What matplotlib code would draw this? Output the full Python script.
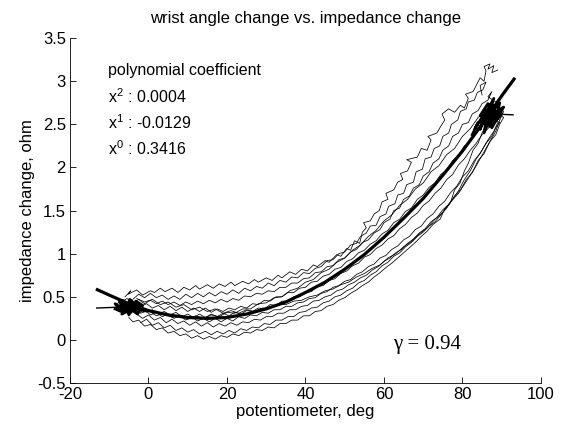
import matplotlib
matplotlib.use("Agg")
import matplotlib.pyplot as plt

plt.rcParams['font.family'] = ['Liberation Sans', 'DejaVu Sans']
plt.rcParams['mathtext.fontset'] = 'custom'
plt.rcParams['mathtext.rm'] = 'Liberation Sans'
plt.rcParams['mathtext.it'] = 'Liberation Sans:italic'

# ---- data ----
x_ticks = [-20, 0, 20, 40, 60, 80, 100]
x_tick_labels = ["-20", "0", "20", "40", "60", "80", "100"]
y_ticks = [-0.5, 0, 0.5, 1, 1.5, 2, 2.5, 3, 3.5]
y_tick_labels = ["-0.5", "0", "0.5", "1", "1.5", "2", "2.5", "3", "3.5"]

coef_labels = ["x$^2$ : 0.0004", "x$^1$ : -0.0129", "x$^0$ : 0.3416"]
gamma_text = "γ = 0.94"

fit_x = [-13.4, -10, -5, 0, 5, 10, 15, 20, 25, 30, 35, 40, 45, 50, 55, 60, 65, 70, 75, 80, 85, 90, 93.4]
fit_y = [0.59, 0.52, 0.42, 0.34, 0.29, 0.26, 0.25, 0.26, 0.30, 0.36, 0.44, 0.55, 0.67, 0.82, 0.99, 1.19,
         1.41, 1.64, 1.91, 2.19, 2.50, 2.83, 3.04]

trace_1 = [(-6, 0.50), (-4.5, 0.57), (-5.2, 0.53), (-3, 0.58), (-1.5, 0.52), (0.5, 0.57), (1.5, 0.55), (3, 0.60),
           (4.2, 0.56), (6, 0.60), (7.5, 0.55), (9, 0.61), (10.5, 0.58), (12, 0.63), (13, 0.59), (15, 0.64),
           (16.5, 0.60), (18, 0.65), (19.5, 0.62), (21, 0.67), (22, 0.63), (24, 0.68), (25.5, 0.65), (27, 0.70),
           (28, 0.67), (30, 0.72), (31.5, 0.69), (33, 0.75), (34, 0.72), (36, 0.79), (37.5, 0.76), (39, 0.82),
           (40.5, 0.80), (42, 0.87), (43, 0.85), (45, 0.92), (46, 0.90), (48, 0.99), (49, 0.97), (50.5, 1.06),
           (51.5, 1.04), (52.5, 1.15), (53.8, 1.12), (54.5, 1.25), (55.5, 1.30), (54.8, 1.36), (56.5, 1.38),
           (57.5, 1.46), (58.8, 1.50), (59.5, 1.60), (61, 1.63), (60.5, 1.70), (62.5, 1.74), (63.5, 1.83),
           (64.8, 1.86), (64.2, 1.93), (66, 1.96), (67, 2.06), (65.8, 2.09), (68.5, 2.12), (69.5, 2.22),
           (71, 2.20), (72, 2.32), (71.2, 2.36), (73.5, 2.40), (74.5, 2.48), (75.5, 2.55), (74.8, 2.62),
           (76.5, 2.68), (78, 2.64), (79.5, 2.72), (80.5, 2.69), (81.5, 2.80), (80.8, 2.85), (82.7, 2.88),
           (83.5, 2.95), (84.5, 3.04), (85.5, 3.00), (86, 3.12), (85.5, 3.17), (87, 3.20), (86.5, 3.14),
           (88, 3.18), (87.5, 3.10), (89, 3.13)]
trace_2 = [(-4, 0.47), (-2.5, 0.53), (-1, 0.49), (0.5, 0.54), (2, 0.49), (3.5, 0.52), (5, 0.47), (6.5, 0.51),
           (8, 0.47), (9.5, 0.53), (11, 0.49), (12.5, 0.54), (14, 0.50), (15.5, 0.55), (17, 0.51), (18.5, 0.56),
           (20, 0.53), (21.5, 0.58), (23, 0.54), (24.5, 0.60), (26, 0.57), (27.5, 0.62), (29, 0.60), (30.5, 0.66),
           (32, 0.63), (33.5, 0.69), (35, 0.67), (36.5, 0.73), (38, 0.72), (39.5, 0.78), (41, 0.77), (42.5, 0.83),
           (44, 0.85), (45.5, 0.92), (47, 0.93), (48.5, 1.00), (50, 1.02), (51.5, 1.10), (53, 1.12), (54, 1.20),
           (55.5, 1.24), (56.5, 1.32), (58, 1.33), (59, 1.43), (60.5, 1.46), (61.2, 1.55), (62.8, 1.58),
           (63.5, 1.68), (65, 1.70), (65.8, 1.80), (67.5, 1.83), (68.2, 1.95), (69.8, 1.98), (70.5, 2.10),
           (72, 2.12), (72.8, 2.22), (74.2, 2.25), (75, 2.36), (76.5, 2.40), (77.2, 2.50), (78.8, 2.55),
           (79.5, 2.65), (81, 2.68), (81.5, 2.76), (83, 2.78), (83.8, 2.87), (85.2, 2.90), (86, 2.99),
           (84.5, 2.95), (85, 2.84)]
trace_3 = [(-7, 0.44), (-5.5, 0.48), (-4, 0.43), (-2.5, 0.47), (-1, 0.42), (0.5, 0.46), (2, 0.42), (3.5, 0.45),
           (5, 0.41), (6.5, 0.44), (8, 0.40), (9.5, 0.44), (11, 0.41), (12.5, 0.45), (14, 0.42), (15.5, 0.46),
           (17, 0.43), (18.5, 0.47), (20, 0.44), (21.5, 0.48), (23, 0.46), (24.5, 0.51), (26, 0.50), (27.5, 0.54),
           (29, 0.53), (30.5, 0.57), (32, 0.56), (33.5, 0.61), (35, 0.61), (36.5, 0.66), (38, 0.66), (39.5, 0.71),
           (41, 0.72), (42.5, 0.78), (44, 0.79), (45.5, 0.85), (47, 0.86), (48.5, 0.93), (50, 0.95), (51.5, 1.02),
           (53, 1.05), (54.5, 1.13), (56, 1.16), (57.5, 1.24), (59, 1.28), (60, 1.36), (61.5, 1.40), (62.5, 1.50),
           (64, 1.53), (65, 1.63), (66.5, 1.67), (67.5, 1.76), (69, 1.80), (70, 1.90), (71.5, 1.95), (72.5, 2.05),
           (74, 2.10), (75, 2.20), (76.5, 2.25), (77.5, 2.36), (79, 2.40), (80, 2.50), (81.5, 2.52), (82.5, 2.62),
           (84, 2.66), (85, 2.74), (86.5, 2.78), (87.5, 2.88), (86.5, 2.82), (88.5, 2.76)]
trace_4 = [(-8, 0.42), (-6.5, 0.47), (-5, 0.41), (-3.5, 0.45), (-2, 0.39), (-0.5, 0.42), (1, 0.37), (2.5, 0.40),
           (4, 0.35), (5.5, 0.39), (7, 0.34), (8.5, 0.38), (10, 0.33), (11.5, 0.37), (13, 0.33), (14.5, 0.37),
           (16, 0.32), (17.5, 0.36), (19, 0.33), (20.5, 0.37), (22, 0.35), (23.5, 0.39), (25, 0.37), (26.5, 0.42),
           (28, 0.41), (29.5, 0.46), (31, 0.45), (32.5, 0.50), (34, 0.50), (35.5, 0.55), (37, 0.55), (38.5, 0.60),
           (40, 0.61), (41.5, 0.67), (43, 0.68), (44.5, 0.74), (46, 0.76), (47.5, 0.82), (49, 0.84), (50.5, 0.91),
           (52, 0.94), (53.5, 1.01), (55, 1.04), (56.5, 1.11), (58, 1.15), (59.5, 1.23), (61, 1.27), (62.5, 1.36),
           (64, 1.40), (65.5, 1.49), (67, 1.53), (68.5, 1.63), (70, 1.68), (71.5, 1.77), (73, 1.82), (74.5, 1.92),
           (76, 1.97), (77.5, 2.08), (79, 2.14), (80.5, 2.25), (82, 2.30), (83.5, 2.42), (85, 2.48), (86.5, 2.58),
           (88, 2.63), (87, 2.56), (89, 2.60)]
trace_5 = [(-5, 0.38), (-3.5, 0.34), (-2, 0.38), (-0.5, 0.32), (1, 0.35), (2.5, 0.30), (4, 0.33), (5.5, 0.29),
           (7, 0.32), (8.5, 0.27), (10, 0.30), (11.5, 0.26), (13, 0.30), (14.5, 0.26), (16, 0.30), (17.5, 0.27),
           (19, 0.31), (20.5, 0.28), (22, 0.32), (23.5, 0.30), (25, 0.34), (26.5, 0.33), (28, 0.37), (29.5, 0.36),
           (31, 0.41), (32.5, 0.40), (34, 0.45), (35.5, 0.45), (37, 0.50), (38.5, 0.50), (40, 0.55), (41.5, 0.56),
           (43, 0.62), (44.5, 0.63), (46, 0.69), (47.5, 0.71), (49, 0.77), (50.5, 0.80), (52, 0.86), (53.5, 0.89),
           (55, 0.96), (56.5, 0.99), (58, 1.06), (59.5, 1.10), (61, 1.17), (62.5, 1.21), (64, 1.29), (65.5, 1.34),
           (67, 1.42), (68.5, 1.47), (70, 1.56), (71.5, 1.61), (73, 1.70), (74.5, 1.76), (76, 1.86), (77.5, 1.92),
           (79, 2.03), (80.5, 2.10), (82, 2.20), (83.5, 2.28), (85, 2.38), (86.5, 2.45), (88, 2.54), (89.5, 2.58),
           (90.5, 2.65), (89.5, 2.55)]
trace_6 = [(-4, 0.36), (-2.5, 0.31), (-1, 0.35), (0.5, 0.29), (2, 0.32), (3.5, 0.27), (5, 0.30), (6.5, 0.25),
           (8, 0.28), (9.5, 0.23), (11, 0.27), (12.5, 0.22), (14, 0.25), (15.5, 0.21), (17, 0.25), (18.5, 0.21),
           (20, 0.25), (21.5, 0.22), (23, 0.27), (24.5, 0.25), (26, 0.29), (27.5, 0.28), (29, 0.32), (30.5, 0.31),
           (32, 0.35), (33.5, 0.35), (35, 0.39), (36.5, 0.39), (38, 0.43), (39.5, 0.44), (41, 0.48), (42.5, 0.49),
           (44, 0.54), (45.5, 0.56), (47, 0.61), (48.5, 0.63), (50, 0.68), (51.5, 0.70), (53, 0.76), (54.5, 0.79),
           (56, 0.85), (57.5, 0.88), (59, 0.95), (60.5, 0.98), (62, 1.05), (63.5, 1.09), (65, 1.16), (66.5, 1.20),
           (68, 1.28), (69.5, 1.32), (71, 1.41), (72.5, 1.46), (74, 1.55), (75.5, 1.61), (77, 1.71), (78.5, 1.78),
           (80, 1.89), (81.5, 1.96), (83, 2.08), (84.5, 2.16), (86, 2.28), (87.5, 2.36), (88.5, 2.46),
           (89.5, 2.52), (88.5, 2.55)]
trace_7 = [(-3, 0.30), (-1.5, 0.25), (0, 0.29), (1.5, 0.23), (3, 0.26), (4.5, 0.20), (6, 0.24), (7.5, 0.19),
           (9, 0.22), (10.5, 0.17), (12, 0.21), (13.5, 0.16), (15, 0.20), (16.5, 0.15), (18, 0.19), (19.5, 0.16),
           (21, 0.20), (22.5, 0.17), (24, 0.21), (25.5, 0.20), (27, 0.24), (28.5, 0.23), (30, 0.27), (31.5, 0.27),
           (33, 0.31), (34.5, 0.31), (36, 0.35), (37.5, 0.35), (39, 0.39), (40.5, 0.40), (42, 0.45), (43.5, 0.46),
           (45, 0.50), (46.5, 0.52), (48, 0.57), (49.5, 0.59), (51, 0.64), (52.5, 0.67), (54, 0.72), (55.5, 0.75),
           (57, 0.81), (58.5, 0.85), (60, 0.91), (61.5, 0.95), (63, 1.01), (64.5, 1.05), (66, 1.12), (67.5, 1.17),
           (69, 1.24), (70.5, 1.29), (72, 1.37), (73.5, 1.42), (75, 1.51), (76.5, 1.57), (78, 1.67), (79.5, 1.74),
           (81, 1.86), (82.5, 1.94), (84, 2.08), (85.5, 2.16), (87, 2.30), (88.5, 2.38), (89.5, 2.50),
           (90.5, 2.58), (89, 2.62)]
trace_8 = [(-2, 0.20), (-0.5, 0.24), (1, 0.17), (2.5, 0.20), (4, 0.14), (5.5, 0.17), (7, 0.11), (8.5, 0.14),
           (10, 0.09), (11.5, 0.12), (13, 0.07), (14.5, 0.10), (16, 0.06), (17.5, 0.10), (19, 0.07), (20.5, 0.11),
           (22, 0.08), (23.5, 0.13), (25, 0.11), (26.5, 0.15), (28, 0.14), (29.5, 0.19), (31, 0.18), (32.5, 0.23),
           (34, 0.23), (35.5, 0.27), (37, 0.27), (38.5, 0.32), (40, 0.33), (41.5, 0.37), (43, 0.38), (44.5, 0.43),
           (46, 0.45), (47.5, 0.50), (49, 0.52), (50.5, 0.57), (52, 0.60), (53.5, 0.66), (55, 0.69), (56.5, 0.75),
           (58, 0.79), (59.5, 0.86), (61, 0.90), (62.5, 0.97), (64, 1.01), (65.5, 1.08), (67, 1.13), (68.5, 1.20),
           (70, 1.25), (71.5, 1.32), (73, 1.37), (74.5, 1.45), (76, 1.53), (77.5, 1.63), (79, 1.73), (80.5, 1.86),
           (82, 1.96), (83.5, 2.10), (85, 2.20), (86.5, 2.32), (88, 2.42), (89, 2.52)]
trace_9 = [(-5, 0.26), (-4, 0.21), (-2.5, 0.23), (-1, 0.16), (0.5, 0.18), (2, 0.12), (3.5, 0.14), (5, 0.08),
           (6.5, 0.10), (8, 0.05), (9.5, 0.07), (11, 0.02), (12.5, 0.05), (14, 0.01), (15.5, 0.04), (17, 0.01),
           (18.5, 0.05), (20, 0.03), (21.5, 0.07), (23, 0.05), (24.5, 0.09), (26, 0.08), (27.5, 0.12), (29, 0.11),
           (30.5, 0.15), (32, 0.14), (33.5, 0.19), (35, 0.19), (36.5, 0.23), (38, 0.23), (39.5, 0.28), (41, 0.28),
           (42.5, 0.33), (44, 0.34), (45.5, 0.39), (47, 0.41), (48.5, 0.46), (50, 0.49), (51.5, 0.54), (53, 0.58),
           (54.5, 0.63), (56, 0.67), (57.5, 0.73), (59, 0.78), (60.5, 0.84), (62, 0.89), (63.5, 0.95), (65, 1.01),
           (66.5, 1.07), (68, 1.13), (69.5, 1.20), (71, 1.26), (72.5, 1.34), (74.3, 1.40), (75.5, 1.52), (77, 1.60),
           (78, 1.74), (79.4, 1.82), (80.5, 1.96), (81.5, 2.05), (82.7, 2.20), (84, 2.28), (85, 2.40), (86.2, 2.50),
           (87, 2.46)]
trace_10 = [(-6, 0.33), (-4, 0.37), (-2, 0.31), (0, 0.34), (2, 0.28), (4, 0.31), (6, 0.26), (8, 0.29), (10, 0.24),
            (12, 0.28), (14, 0.25), (16, 0.29), (18, 0.27), (20, 0.32), (22, 0.31), (24, 0.36), (26, 0.36),
            (28, 0.42), (30, 0.43), (32, 0.49), (34, 0.50), (36, 0.57), (38, 0.60), (40, 0.67), (42, 0.70),
            (44, 0.78), (46, 0.82), (48, 0.90), (50, 0.95), (52, 1.04), (54, 1.10), (56, 1.20), (58, 1.27),
            (60, 1.38), (62, 1.45), (64, 1.56), (66, 1.63), (68, 1.75), (70, 1.82), (72, 1.95), (74, 2.02),
            (76, 2.15), (78, 2.22), (80, 2.36), (82, 2.45), (84, 2.58), (86, 2.65), (88, 2.72)]
trace_11 = [(-3, 0.48), (-1, 0.44), (1, 0.47), (3, 0.41), (5, 0.44), (7, 0.38), (9, 0.41), (11, 0.35), (13, 0.38),
            (15, 0.33), (17, 0.36), (19, 0.31), (21, 0.34), (23, 0.31), (25, 0.35), (27, 0.33), (29, 0.37),
            (31, 0.37), (33, 0.41), (35, 0.41), (37, 0.45), (39, 0.46), (41, 0.50), (43, 0.52), (45, 0.57),
            (47, 0.59), (49, 0.64), (51, 0.67), (53, 0.73), (55, 0.77), (57, 0.83), (59, 0.87), (61, 0.95),
            (63, 1.00), (65, 1.08), (67, 1.14), (69, 1.23), (71, 1.30), (73, 1.40), (75, 1.48), (77, 1.60),
            (79, 1.70), (81, 1.84), (83, 1.98), (85, 2.14), (87, 2.30), (88.5, 2.42), (89.5, 2.55)]
start_spike = [(-13.2, 0.37), (-7.5, 0.38)]
start_cluster = [(-8.5, 0.36), (-7, 0.33), (-8.5, 0.42), (-6.5, 0.36), (-7.5, 0.46), (-5.5, 0.40),
                 (-6.8, 0.30), (-4.5, 0.35), (-6, 0.44), (-5, 0.29), (-3.5, 0.42), (-4.8, 0.47), (-3, 0.32),
                 (-4, 0.39), (-2, 0.36), (-3.2, 0.45), (-1.5, 0.40), (-2.8, 0.30), (-5.2, 0.38), (-7, 0.40),
                 (-6, 0.34), (-4.2, 0.43), (-2.5, 0.38), (-1, 0.34), (-3.5, 0.37), (-5.8, 0.41), (-7.8, 0.35),
                 (-6.2, 0.38), (-4.5, 0.32), (-3, 0.41), (-5, 0.44)]
end_spike = [(88, 2.62), (92.9, 2.61)]
end_cluster = [(82.5, 2.38), (84, 2.52), (83.2, 2.45), (85.5, 2.62), (84.5, 2.44), (86.5, 2.66), (85.5, 2.40),
               (87.5, 2.62), (86, 2.50), (88, 2.72), (87, 2.48), (89, 2.66), (87.5, 2.56), (90, 2.62),
               (88.5, 2.54), (89.5, 2.75), (86.5, 2.58), (88, 2.80), (85, 2.55), (87, 2.68), (84.5, 2.60),
               (86.5, 2.74), (88.5, 2.64), (90.5, 2.70), (87.5, 2.46), (85.8, 2.66), (89, 2.58)]

traces = [trace_1, trace_2, trace_3, trace_4, trace_5, trace_6, trace_7, trace_8, trace_9, trace_10, trace_11]

# ---- figure ----
fig = plt.figure(figsize=(5.66, 4.28), dpi=100)
ax = fig.add_axes([0.1237, 0.105, 0.832, 0.806])

for tr in traces:
    ax.plot([p[0] for p in tr], [p[1] for p in tr], color='black', lw=0.55)
for blob in (start_cluster, end_cluster):
    ax.plot([p[0] for p in blob], [p[1] for p in blob], color='black', lw=2.0)
for spike in (start_spike, end_spike):
    ax.plot([p[0] for p in spike], [p[1] for p in spike], color='black', lw=1.0)
ax.plot(fit_x, fit_y, color='black', lw=2.3, solid_capstyle='butt')

ax.set_xlim(-20, 100)
ax.set_ylim(-0.5, 3.5)
ax.set_xticks(x_ticks)
ax.set_xticklabels(x_tick_labels)
ax.set_yticks(y_ticks)
ax.set_yticklabels(y_tick_labels)
ax.tick_params(direction='in', length=4, width=0.6, labelsize=12, pad=3)
for s in ['top', 'right']:
    ax.spines[s].set_visible(False)
for s in ['left', 'bottom']:
    ax.spines[s].set_linewidth(0.6)

ax.set_title("wrist angle change vs. impedance change", fontsize=12, pad=11)
ax.set_xlabel("potentiometer, deg", fontsize=12, labelpad=1)
ax.set_ylabel("impedance change, ohm", fontsize=12, labelpad=2)

ax.text(-10.4, 3.13, "polynomial coefficient", fontsize=11.5, va='center', ha='left')
for i, lab in enumerate(coef_labels):
    ax.text(-10.4, 2.82 - 0.30 * i, lab, fontsize=11.5, va='center', ha='left')
ax.text(62.3, -0.05, gamma_text, fontsize=15, va='center', ha='left', family=['Liberation Serif'])

fig.savefig("out.png", dpi=100)
